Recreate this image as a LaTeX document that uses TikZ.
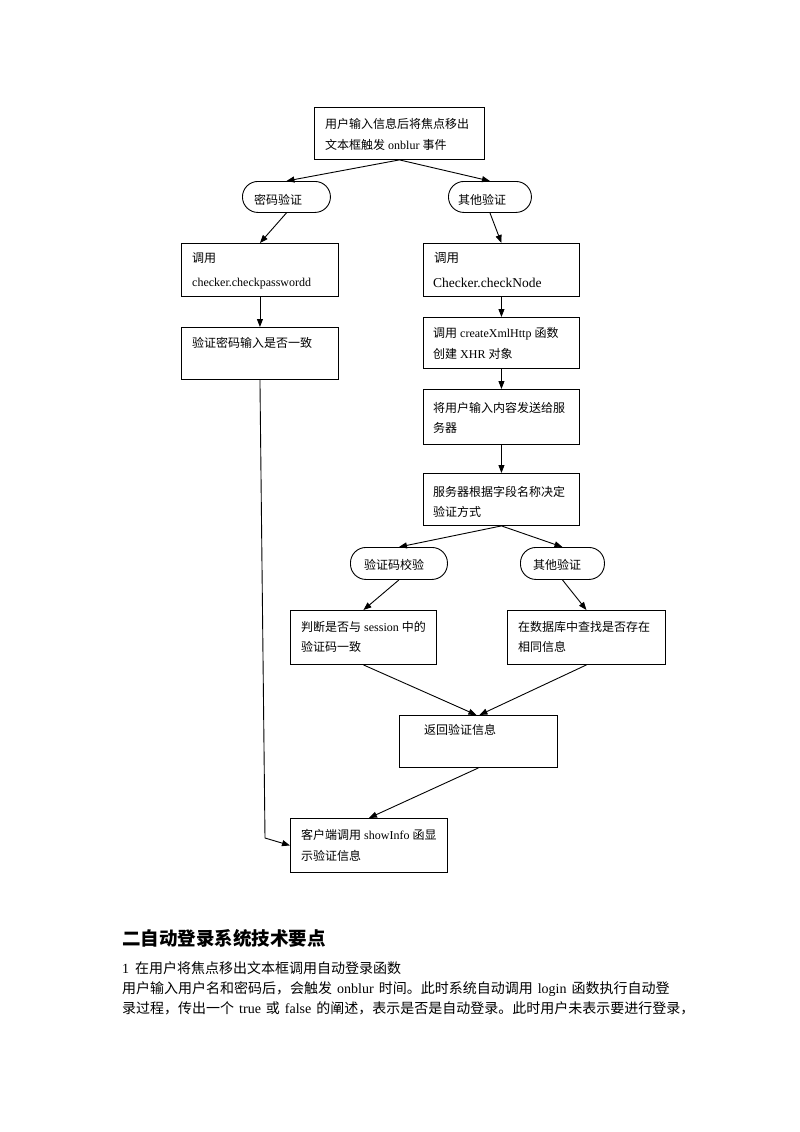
\documentclass[tikz,border=0pt]{standalone}
\usepackage{fontspec}
\setmainfont{Liberation Serif}
\newfontfamily\cjk{Noto Sans CJK SC}
\usetikzlibrary{arrows.meta}
\newcommand\zh[1]{{\cjk #1}}
\newcommand\gp{\hspace{5pt}}
\begin{document}
\begin{tikzpicture}[x=1pt,y=-1pt,
  box/.style={draw, line width=0.9pt, anchor=north west, inner sep=0pt, rectangle},
  pill/.style={draw, line width=0.9pt, anchor=north west, inner sep=0pt, rectangle, rounded corners=15.5pt},
  txt/.style={anchor=base west, inner sep=0pt, font=\fontsize{12}{14}\selectfont},
  body/.style={anchor=base west, inner sep=0pt, font=\fontsize{14}{16}\selectfont},
  arr/.style={line width=0.9pt, -{Triangle[length=8pt,width=6pt]}}]
\useasboundingbox (0,0) rectangle (800,1132);
% shapes
\node[box, minimum width=170pt, minimum height=52pt] (n1) at (314,107) {};
\node[pill, minimum width=88pt, minimum height=31pt] (p1) at (242,181) {};
\node[pill, minimum width=83pt, minimum height=31pt] (o1) at (448,181) {};
\node[box, minimum width=157pt, minimum height=53pt] (b1) at (181,243) {};
\node[box, minimum width=156pt, minimum height=53pt] (c1) at (423,243) {};
\node[box, minimum width=157pt, minimum height=52pt] (b2) at (181,327) {};
\node[box, minimum width=156pt, minimum height=51pt] (c2) at (423,317) {};
\node[box, minimum width=156pt, minimum height=55pt] (c3) at (423,389) {};
\node[box, minimum width=156pt, minimum height=52pt] (c4) at (423,473) {};
\node[pill, minimum width=97pt, minimum height=32pt] (v1) at (350,547) {};
\node[pill, minimum width=84pt, minimum height=32pt] (o2) at (520,547) {};
\node[box, minimum width=146pt, minimum height=54pt] (s1) at (290,610) {};
\node[box, minimum width=158pt, minimum height=54pt] (d1) at (507,610) {};
\node[box, minimum width=158pt, minimum height=52pt] (r1) at (399,715) {};
\node[box, minimum width=157pt, minimum height=54pt] (f1) at (290,818) {};
\coordinate (k1) at (265,838);
% texts
\node[txt] (tn1a) at (325,128.5) {\zh{用户输入信息后将焦点移出}};
\node[txt] (tn1b) at (325,149.5) {\zh{文本框触发} onblur \zh{事件}};
\node[txt] (tp1) at (254,204.5) {\zh{密码验证}};
\node[txt] (to1) at (458,204.5) {\zh{其他验证}};
\node[txt] (tb1a) at (192,262.5) {\zh{调用}};
\node[txt] (tb1b) at (192,286) {checker.checkpasswordd};
\node[txt, font=\fontsize{12.5}{14}\selectfont] (tc1a) at (434,262.5) {\zh{调用}};
\node[txt, font=\fontsize{13.5}{15}\selectfont] (tc1b) at (433,287) {Checker.checkNode};
\node[txt] (tb2) at (192,347.5) {\zh{验证密码输入是否一致}};
\node[txt] (tc2a) at (433,337.5) {\zh{调用} createXmlHttp \zh{函数}};
\node[txt] (tc2b) at (433,358.5) {\zh{创建} XHR \zh{对象}};
\node[txt] (tc3a) at (433,412.5) {\zh{将用户输入内容发送给服}};
\node[txt] (tc3b) at (433,432.5) {\zh{务器}};
\node[txt] (tc4a) at (433,496.5) {\zh{服务器根据字段名称决定}};
\node[txt] (tc4b) at (433,516.5) {\zh{验证方式}};
\node[txt] (tv1) at (364,569.5) {\zh{验证码校验}};
\node[txt] (to2) at (533,569.5) {\zh{其他验证}};
\node[txt] (ts1a) at (301,631.5) {\zh{判断是否与} session \zh{中的}};
\node[txt] (ts1b) at (301,651.5) {\zh{验证码一致}};
\node[txt] (td1a) at (518,631.5) {\zh{在数据库中查找是否存在}};
\node[txt] (td1b) at (518,651.5) {\zh{相同信息}};
\node[txt] (tr1) at (424,734.5) {\zh{返回验证信息}};
\node[txt] (tf1a) at (301,839.5) {\zh{客户端调用} showInfo \zh{函显}};
\node[txt] (tf1b) at (301,860.5) {\zh{示验证信息}};
% connectors
\draw[arr] (n1.south) -- (p1.north);
\draw[arr] (n1.south) -- (o1.north);
\draw[arr] (p1.south) -- (b1.north);
\draw[arr] (o1.south) -- (c1.north);
\draw[arr] (b1.south) -- (b2.north);
\draw[arr] (c1.south) -- (c2.north);
\draw[arr] (c2.south) -- (c3.north);
\draw[arr] (c3.south) -- (c4.north);
\draw[arr] (c4.south) -- (v1.north);
\draw[arr] (c4.south) -- (o2.north);
\draw[arr] (v1.south) -- (s1.north);
\draw[arr] (o2.south) -- (d1.north);
\draw[arr] (s1.south) -- ([xshift=-2pt]r1.north);
\draw[arr] (d1.south) -- ([xshift=1pt]r1.north);
\draw[arr] (r1.south) -- (f1.north);
\draw[arr] (b2.south) -- (k1) -- (f1.west);
% document text
\node[anchor=base west, inner sep=0pt, font=\fontsize{18.5}{20}\selectfont\bfseries] (h1) at (122,945) {\zh{二自动登录系统技术要点}};
\node[body] (l1) at (122,973) {1\hspace{6pt}\zh{在用户将焦点移出文本框调用自动登录函数}};
\node[body] (l2) at (122,993) {\zh{用户输入用户名和密码后，会触发}\gp onblur\gp\zh{时间。此时系统自动调用}\gp login\gp\zh{函数执行自动登}};
\node[body] (l3) at (122,1013) {\zh{录过程，传出一个}\gp true\gp\zh{或}\gp false\gp\zh{的阐述，表示是否是自动登录。此时用户未表示要进行登录，}};
\end{tikzpicture}
\end{document}
